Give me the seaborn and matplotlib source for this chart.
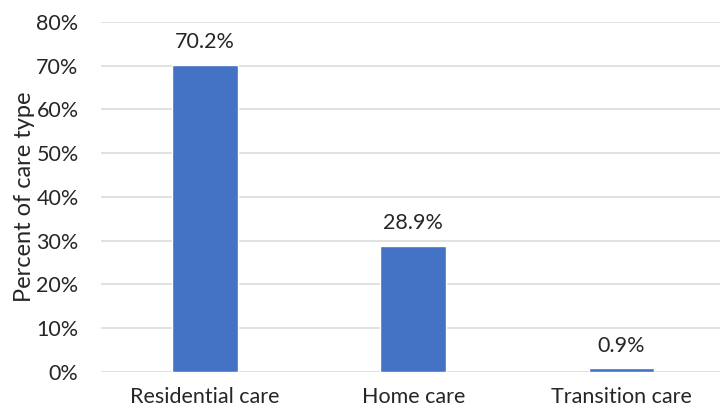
import matplotlib
matplotlib.use("Agg")
import matplotlib.pyplot as plt
import seaborn as sns
import pandas as pd

categories = ["Residential care", "Home care", "Transition care"]
percent = [70.2, 28.9, 0.9]
y_ticks = [0, 10, 20, 30, 40, 50, 60, 70, 80]

sns.set_theme(style="white")
plt.rcParams["font.family"] = ["Lato", "DejaVu Sans"]

df = pd.DataFrame({"care": categories, "pct": percent})

fig = plt.figure(figsize=(7.2, 4.12), dpi=100)
ax = fig.add_axes([0.140, 0.097, 0.868, 0.850])

sns.barplot(data=df, x="care", y="pct", color="#4472C4", width=0.315,
            saturation=1, ax=ax, zorder=3)

for i, v in enumerate(percent):
    ax.text(i, v + 2.8, f"{v:.1f}%", ha="center", va="bottom",
            fontsize=15.5, color="#262626")

ax.set_ylim(0, 80)
ax.set_xlim(-0.5, 2.5)
ax.set_yticks(y_ticks)
ax.set_yticklabels([f"{t}%" for t in y_ticks], fontsize=15.5, color="#262626")
ax.tick_params(axis="x", labelsize=15.5, colors="#262626", length=0, pad=11)
ax.tick_params(axis="y", length=0, pad=16)
ax.yaxis.grid(True, color="#D9D9D9", linewidth=1.1, zorder=0)
ax.set_axisbelow(True)
for s in ax.spines.values():
    s.set_visible(False)
ax.set_xlabel("")
ax.set_ylabel("Percent of care type", fontsize=17, color="#262626", labelpad=1)

fig.savefig("out.png", dpi=100)
